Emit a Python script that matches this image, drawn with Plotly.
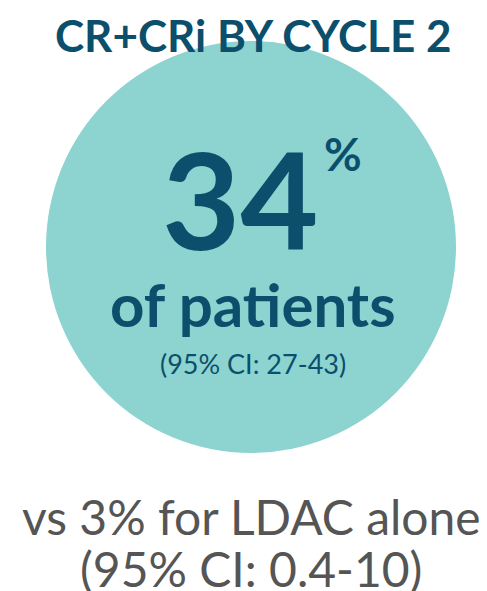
import plotly.graph_objects as go

W, H = 487, 591

title = "CR+CRi BY CYCLE 2"
main_value = 34
main_label = "of patients"
main_ci = "(95% CI: 27-43)"
compare_lines = ["vs 3% for LDAC alone", "(95% CI: 0.4-10)"]

dark = "#0b4f6c"
teal = "#8dd3d0"
grey = "#555555"
font = "Lato"

fig = go.Figure()
fig.add_shape(type="circle", x0=38, x1=448, y0=33, y1=445,
              fillcolor=teal, line=dict(color=teal, width=0), layer="below")

notes = [
    (245, 27, f"<b>{title}</b>", 44, dark),
    (232, 190, f"<b>{main_value}</b>", 135, dark),
    (335, 145, "<b>%</b>", 46, dark),
    (245, 296, f"<b>{main_label}</b>", 60, dark),
    (245, 355, main_ci, 27, dark),
    (243, 508, compare_lines[0], 48, grey),
    (243, 560, compare_lines[1], 48, grey),
]
for x, y, t, s, c in notes:
    fig.add_annotation(x=x, y=y, text=t, showarrow=False, xref="x", yref="y",
                       font=dict(family=font, size=s, color=c),
                       xanchor="center", yanchor="middle")

fig.update_xaxes(range=[0, W], visible=False, fixedrange=True)
fig.update_yaxes(range=[H, 0], visible=False, fixedrange=True)
fig.update_layout(width=W, height=H, margin=dict(l=0, r=0, t=0, b=0),
                  plot_bgcolor="white", paper_bgcolor="white", showlegend=False)
fig.write_html("out.html")
